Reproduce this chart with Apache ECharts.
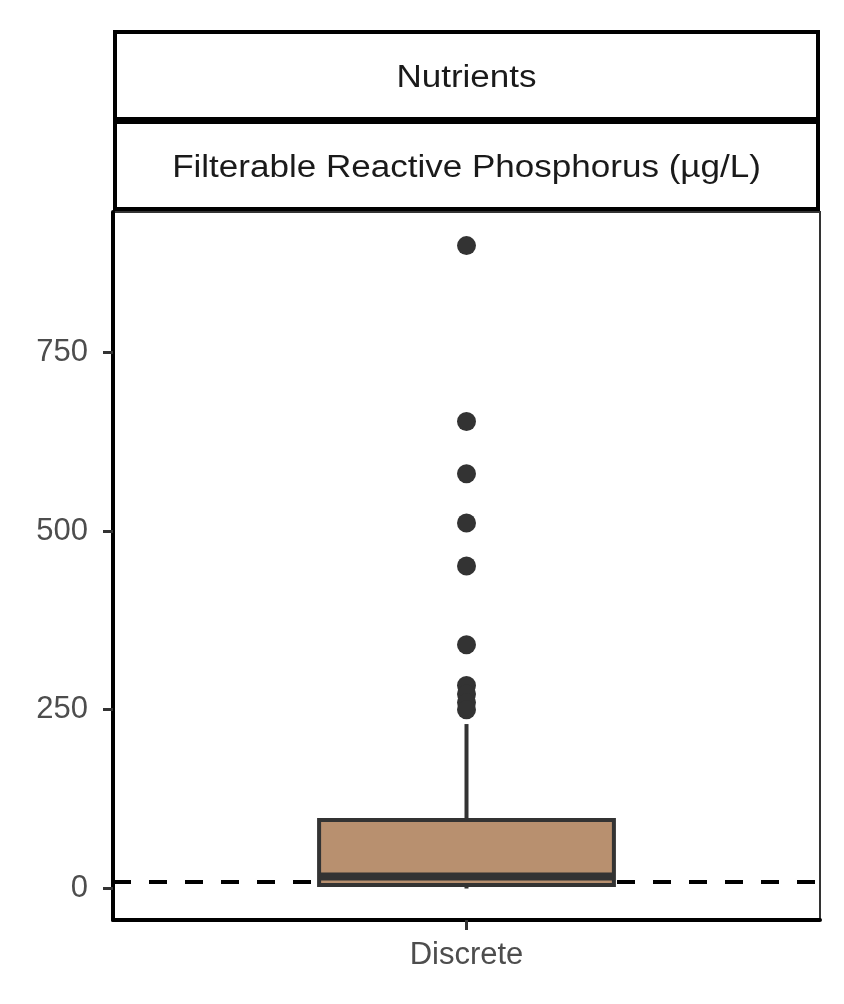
<!DOCTYPE html>
<html>
<head>
<meta charset="utf-8">
<style>
  html, body { margin: 0; padding: 0; background: #fff; }
  #chart { width: 844px; height: 1004px; }
</style>
<script src="https://cdn.jsdelivr.net/npm/echarts@6.0.0/dist/echarts.min.js"></script>
</head>
<body>
<div id="chart"></div>
<script>
// facet labels
const stripLabels = ['Nutrients', 'Filterable Reactive Phosphorus (µg/L)']
// x categories
const categories = ['Discrete']
// lower whisker, Q1, median, Q3, upper whisker
const boxStats = [[0, 5, 17, 96, 230]]
// points beyond the whiskers
const outlierValues = [899, 653, 580, 511, 451, 341, 284, 272, 260, 250]
// y tick labels
const yTicks = [0, 250, 500, 750]
// dashed guideline
const guideValue = 10

const FONT = '"Liberation Sans", Arial, Helvetica, sans-serif'
const BOX_FRACTION = 0.417

const chart = echarts.init(document.getElementById('chart'), null, { renderer: 'canvas' })

function renderBox(params, api) {
  const x = api.value(0)
  const low = api.coord([x, api.value(1)])
  const q1 = api.coord([x, api.value(2)])
  const med = api.coord([x, api.value(3)])
  const q3 = api.coord([x, api.value(4)])
  const high = api.coord([x, api.value(5)])
  const halfW = api.size([1, 0])[0] * BOX_FRACTION / 2
  const stroke = { stroke: '#333333', lineWidth: 4 }
  return {
    type: 'group',
    children: [
      { type: 'line', shape: { x1: high[0], y1: high[1], x2: q3[0], y2: q3[1] }, style: stroke },
      { type: 'line', shape: { x1: low[0], y1: low[1], x2: q1[0], y2: q1[1] }, style: stroke },
      {
        type: 'rect',
        shape: { x: q3[0] - halfW, y: q3[1], width: halfW * 2, height: q1[1] - q3[1] },
        style: { fill: '#B8906F', stroke: '#333333', lineWidth: 4 }
      },
      {
        type: 'line',
        shape: { x1: med[0] - halfW, y1: med[1], x2: med[0] + halfW, y2: med[1] },
        style: { stroke: '#333333', lineWidth: 8 }
      }
    ]
  }
}

const stripGraphics = []
stripLabels.forEach((label, i) => {
  const top = 32 + i * 90
  stripGraphics.push({
    type: 'rect',
    shape: { x: 115, y: top, width: 703, height: 87 },
    style: { fill: '#ffffff', stroke: '#000000', lineWidth: 4 }
  })
  stripGraphics.push({
    type: 'text',
    x: 466.5,
    y: top + 46,
    scaleX: 1.13,
    style: {
      text: label,
      fill: '#1a1a1a',
      fontSize: 31,
      fontFamily: FONT,
      align: 'center',
      verticalAlign: 'middle'
    }
  })
})

chart.setOption({
  animation: false,
  backgroundColor: '#ffffff',
  grid: {
    left: 113,
    right: 24,
    top: 212,
    bottom: 84,
    show: true,
    borderColor: '#333333',
    borderWidth: 2
  },
  graphic: stripGraphics,
  xAxis: {
    type: 'category',
    data: categories,
    boundaryGap: true,
    axisLine: { onZero: false, lineStyle: { color: '#000000', width: 4 } },
    axisTick: { show: true, interval: 0, alignWithLabel: true, length: 10, lineStyle: { color: '#333333', width: 3 } },
    axisLabel: { fontSize: 31, color: '#4d4d4d', fontFamily: FONT, margin: 20 },
    splitLine: { show: false }
  },
  yAxis: {
    type: 'value',
    min: -44,
    max: 946,
    axisLine: { show: true, lineStyle: { color: '#000000', width: 4 } },
    axisTick: { show: true, customValues: yTicks, length: 10, lineStyle: { color: '#333333', width: 3 } },
    axisLabel: { customValues: yTicks, fontSize: 31, color: '#4d4d4d', fontFamily: FONT, margin: 25 },
    splitLine: { show: false }
  },
  series: [
    {
      name: 'outliers',
      type: 'scatter',
      z: 2,
      symbolSize: 19,
      itemStyle: { color: '#333333', opacity: 1 },
      data: outlierValues.map(v => [categories[0], v]),
      markLine: {
        silent: true,
        z: 1,
        symbol: 'none',
        label: { show: false },
        lineStyle: { color: '#000000', width: 4, type: [18, 18], opacity: 1 },
        data: [{ yAxis: guideValue }]
      }
    },
    {
      name: 'box',
      type: 'custom',
      z: 10,
      renderItem: renderBox,
      encode: { x: 0, y: [1, 2, 3, 4, 5] },
      data: categories.map((c, i) => [i].concat(boxStats[i]))
    }
  ]
})
</script>
</body>
</html>
